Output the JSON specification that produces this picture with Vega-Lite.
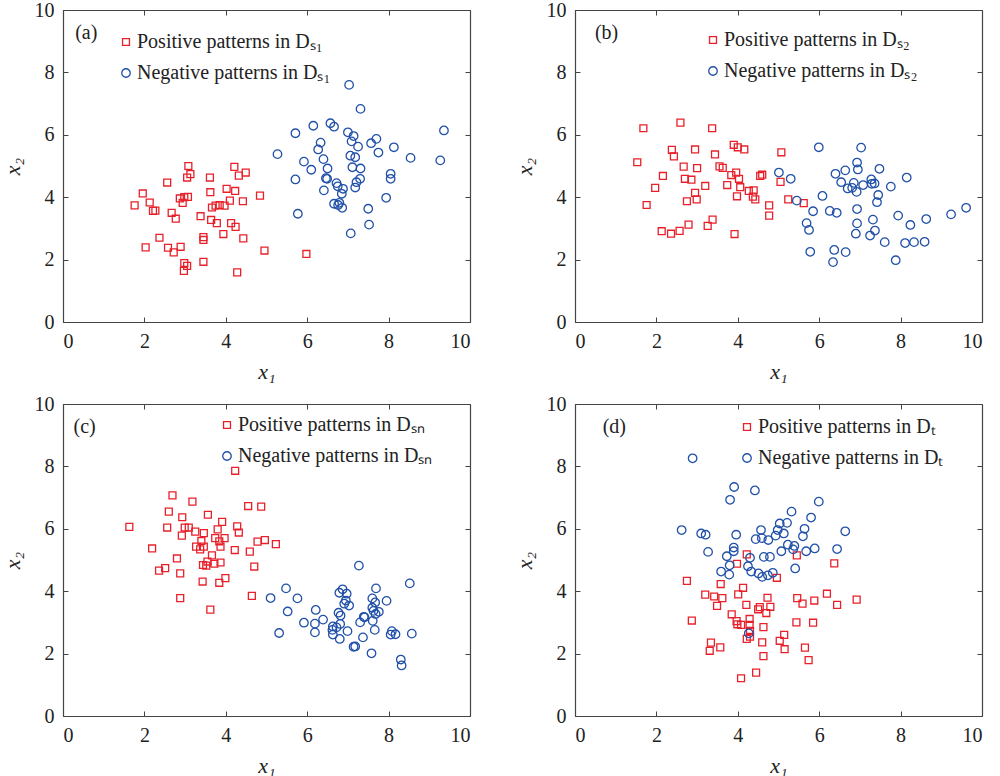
{
  "$schema": "https://vega.github.io/schema/vega-lite/v6.json",
  "background": "white",
  "padding": {"left": 1, "top": 0, "right": 5, "bottom": 5},
  "datasets": {
    "a": [
      {"x1":3.08,"x2":5.00,"cls":"pos"},{"x1":3.13,"x2":4.74,"cls":"pos"},{"x1":3.05,"x2":4.63,"cls":"pos"},{"x1":2.56,"x2":4.47,"cls":"pos"},{"x1":3.61,"x2":4.63,"cls":"pos"},{"x1":4.21,"x2":4.97,"cls":"pos"},{"x1":4.32,"x2":4.69,"cls":"pos"},{"x1":4.49,"x2":4.79,"cls":"pos"},{"x1":1.96,"x2":4.12,"cls":"pos"},{"x1":3.62,"x2":4.16,"cls":"pos"},
      {"x1":4.02,"x2":4.27,"cls":"pos"},{"x1":4.23,"x2":4.20,"cls":"pos"},{"x1":4.84,"x2":4.05,"cls":"pos"},{"x1":1.76,"x2":3.74,"cls":"pos"},{"x1":2.13,"x2":3.83,"cls":"pos"},{"x1":2.87,"x2":3.96,"cls":"pos"},{"x1":2.98,"x2":4.00,"cls":"pos"},{"x1":3.07,"x2":4.01,"cls":"pos"},{"x1":2.94,"x2":3.82,"cls":"pos"},{"x1":2.21,"x2":3.56,"cls":"pos"},
      {"x1":2.27,"x2":3.57,"cls":"pos"},{"x1":2.67,"x2":3.50,"cls":"pos"},{"x1":2.77,"x2":3.31,"cls":"pos"},{"x1":3.66,"x2":3.67,"cls":"pos"},{"x1":3.75,"x2":3.73,"cls":"pos"},{"x1":3.85,"x2":3.75,"cls":"pos"},{"x1":3.97,"x2":3.73,"cls":"pos"},{"x1":4.10,"x2":3.89,"cls":"pos"},{"x1":4.42,"x2":3.87,"cls":"pos"},{"x1":3.38,"x2":3.39,"cls":"pos"},
      {"x1":3.64,"x2":3.27,"cls":"pos"},{"x1":3.78,"x2":3.17,"cls":"pos"},{"x1":4.13,"x2":3.17,"cls":"pos"},{"x1":4.24,"x2":3.05,"cls":"pos"},{"x1":3.94,"x2":2.82,"cls":"pos"},{"x1":4.43,"x2":2.68,"cls":"pos"},{"x1":2.37,"x2":2.70,"cls":"pos"},{"x1":3.45,"x2":2.72,"cls":"pos"},{"x1":3.45,"x2":2.63,"cls":"pos"},{"x1":2.03,"x2":2.39,"cls":"pos"},
      {"x1":2.58,"x2":2.38,"cls":"pos"},{"x1":2.89,"x2":2.41,"cls":"pos"},{"x1":2.72,"x2":2.23,"cls":"pos"},{"x1":4.95,"x2":2.29,"cls":"pos"},{"x1":2.98,"x2":1.89,"cls":"pos"},{"x1":3.05,"x2":1.80,"cls":"pos"},{"x1":2.97,"x2":1.64,"cls":"pos"},{"x1":3.45,"x2":1.93,"cls":"pos"},{"x1":4.28,"x2":1.59,"cls":"pos"},{"x1":5.98,"x2":2.18,"cls":"pos"},
      {"x1":7.31,"x2":6.83,"cls":"neg"},{"x1":6.15,"x2":6.29,"cls":"neg"},{"x1":6.57,"x2":6.37,"cls":"neg"},{"x1":6.66,"x2":6.26,"cls":"neg"},{"x1":5.71,"x2":6.05,"cls":"neg"},{"x1":7.00,"x2":6.08,"cls":"neg"},{"x1":7.14,"x2":5.96,"cls":"neg"},{"x1":7.09,"x2":5.79,"cls":"neg"},{"x1":6.33,"x2":5.75,"cls":"neg"},{"x1":6.27,"x2":5.53,"cls":"neg"},
      {"x1":7.25,"x2":5.62,"cls":"neg"},{"x1":7.57,"x2":5.73,"cls":"neg"},{"x1":7.70,"x2":5.87,"cls":"neg"},{"x1":8.13,"x2":5.60,"cls":"neg"},{"x1":7.75,"x2":5.43,"cls":"neg"},{"x1":9.36,"x2":6.14,"cls":"neg"},{"x1":5.27,"x2":5.38,"cls":"neg"},{"x1":7.06,"x2":5.33,"cls":"neg"},{"x1":7.18,"x2":5.28,"cls":"neg"},{"x1":8.54,"x2":5.26,"cls":"neg"},
      {"x1":9.27,"x2":5.18,"cls":"neg"},{"x1":5.92,"x2":5.14,"cls":"neg"},{"x1":6.40,"x2":5.22,"cls":"neg"},{"x1":6.10,"x2":4.88,"cls":"neg"},{"x1":6.50,"x2":4.92,"cls":"neg"},{"x1":7.11,"x2":4.96,"cls":"neg"},{"x1":7.31,"x2":4.92,"cls":"neg"},{"x1":5.71,"x2":4.57,"cls":"neg"},{"x1":6.46,"x2":4.61,"cls":"neg"},{"x1":6.49,"x2":4.59,"cls":"neg"},
      {"x1":6.72,"x2":4.45,"cls":"neg"},{"x1":6.75,"x2":4.35,"cls":"neg"},{"x1":6.88,"x2":4.27,"cls":"neg"},{"x1":6.85,"x2":4.11,"cls":"neg"},{"x1":6.41,"x2":4.22,"cls":"neg"},{"x1":7.30,"x2":4.59,"cls":"neg"},{"x1":7.21,"x2":4.48,"cls":"neg"},{"x1":7.18,"x2":4.31,"cls":"neg"},{"x1":8.05,"x2":4.75,"cls":"neg"},{"x1":8.05,"x2":4.59,"cls":"neg"},
      {"x1":7.94,"x2":3.98,"cls":"neg"},{"x1":6.66,"x2":3.79,"cls":"neg"},{"x1":6.79,"x2":3.82,"cls":"neg"},{"x1":6.76,"x2":3.75,"cls":"neg"},{"x1":6.86,"x2":3.66,"cls":"neg"},{"x1":5.77,"x2":3.47,"cls":"neg"},{"x1":7.50,"x2":3.63,"cls":"neg"},{"x1":7.52,"x2":3.12,"cls":"neg"},{"x1":7.07,"x2":2.84,"cls":"neg"},{"x1":7.03,"x2":7.60,"cls":"neg"}
    ],
    "b": [
      {"x1":1.68,"x2":6.21,"cls":"pos"},{"x1":2.59,"x2":6.39,"cls":"pos"},{"x1":3.37,"x2":6.21,"cls":"pos"},{"x1":1.53,"x2":5.12,"cls":"pos"},{"x1":2.38,"x2":5.52,"cls":"pos"},{"x1":2.43,"x2":5.31,"cls":"pos"},{"x1":2.95,"x2":5.53,"cls":"pos"},{"x1":3.44,"x2":5.37,"cls":"pos"},{"x1":3.90,"x2":5.68,"cls":"pos"},{"x1":4.00,"x2":5.60,"cls":"pos"},
      {"x1":4.16,"x2":5.53,"cls":"pos"},{"x1":2.67,"x2":4.98,"cls":"pos"},{"x1":3.00,"x2":4.93,"cls":"pos"},{"x1":3.55,"x2":4.99,"cls":"pos"},{"x1":3.63,"x2":4.94,"cls":"pos"},{"x1":3.84,"x2":4.71,"cls":"pos"},{"x1":3.96,"x2":4.79,"cls":"pos"},{"x1":4.03,"x2":4.59,"cls":"pos"},{"x1":4.55,"x2":4.68,"cls":"pos"},{"x1":4.60,"x2":4.72,"cls":"pos"},
      {"x1":2.16,"x2":4.68,"cls":"pos"},{"x1":2.70,"x2":4.59,"cls":"pos"},{"x1":2.86,"x2":4.56,"cls":"pos"},{"x1":1.97,"x2":4.30,"cls":"pos"},{"x1":3.20,"x2":4.36,"cls":"pos"},{"x1":3.74,"x2":4.39,"cls":"pos"},{"x1":4.06,"x2":4.32,"cls":"pos"},{"x1":2.95,"x2":4.14,"cls":"pos"},{"x1":2.99,"x2":3.93,"cls":"pos"},{"x1":2.75,"x2":3.87,"cls":"pos"},
      {"x1":3.98,"x2":4.03,"cls":"pos"},{"x1":4.27,"x2":4.20,"cls":"pos"},{"x1":4.39,"x2":4.22,"cls":"pos"},{"x1":4.37,"x2":4.02,"cls":"pos"},{"x1":4.43,"x2":3.93,"cls":"pos"},{"x1":1.76,"x2":3.75,"cls":"pos"},{"x1":4.77,"x2":3.74,"cls":"pos"},{"x1":4.77,"x2":3.41,"cls":"pos"},{"x1":3.38,"x2":3.28,"cls":"pos"},{"x1":3.26,"x2":3.08,"cls":"pos"},
      {"x1":2.79,"x2":3.12,"cls":"pos"},{"x1":2.13,"x2":2.91,"cls":"pos"},{"x1":2.36,"x2":2.83,"cls":"pos"},{"x1":2.57,"x2":2.92,"cls":"pos"},{"x1":3.92,"x2":2.82,"cls":"pos"},{"x1":5.07,"x2":5.44,"cls":"pos"},{"x1":5.05,"x2":4.49,"cls":"pos"},{"x1":5.24,"x2":3.93,"cls":"pos"},{"x1":5.62,"x2":3.81,"cls":"pos"},
      {"x1":5.99,"x2":5.60,"cls":"neg"},{"x1":7.03,"x2":5.59,"cls":"neg"},{"x1":6.93,"x2":5.11,"cls":"neg"},{"x1":6.95,"x2":4.89,"cls":"neg"},{"x1":5.01,"x2":4.79,"cls":"neg"},{"x1":5.30,"x2":4.59,"cls":"neg"},{"x1":6.40,"x2":4.75,"cls":"neg"},{"x1":6.64,"x2":4.86,"cls":"neg"},{"x1":7.48,"x2":4.91,"cls":"neg"},{"x1":8.15,"x2":4.63,"cls":"neg"},
      {"x1":6.54,"x2":4.48,"cls":"neg"},{"x1":6.70,"x2":4.28,"cls":"neg"},{"x1":6.81,"x2":4.30,"cls":"neg"},{"x1":6.85,"x2":4.46,"cls":"neg"},{"x1":6.92,"x2":4.17,"cls":"neg"},{"x1":7.08,"x2":4.39,"cls":"neg"},{"x1":7.28,"x2":4.57,"cls":"neg"},{"x1":7.29,"x2":4.43,"cls":"neg"},{"x1":7.36,"x2":4.44,"cls":"neg"},{"x1":7.76,"x2":4.34,"cls":"neg"},
      {"x1":7.45,"x2":4.07,"cls":"neg"},{"x1":7.42,"x2":3.84,"cls":"neg"},{"x1":6.08,"x2":4.04,"cls":"neg"},{"x1":5.45,"x2":3.89,"cls":"neg"},{"x1":5.85,"x2":3.55,"cls":"neg"},{"x1":6.26,"x2":3.56,"cls":"neg"},{"x1":6.43,"x2":3.50,"cls":"neg"},{"x1":6.93,"x2":3.62,"cls":"neg"},{"x1":5.69,"x2":3.17,"cls":"neg"},{"x1":5.75,"x2":2.95,"cls":"neg"},
      {"x1":6.93,"x2":3.16,"cls":"neg"},{"x1":6.90,"x2":2.83,"cls":"neg"},{"x1":7.32,"x2":3.28,"cls":"neg"},{"x1":7.37,"x2":2.93,"cls":"neg"},{"x1":7.25,"x2":2.77,"cls":"neg"},{"x1":7.94,"x2":3.41,"cls":"neg"},{"x1":8.24,"x2":3.11,"cls":"neg"},{"x1":8.63,"x2":3.30,"cls":"neg"},{"x1":9.24,"x2":3.45,"cls":"neg"},{"x1":9.61,"x2":3.66,"cls":"neg"},
      {"x1":7.61,"x2":2.56,"cls":"neg"},{"x1":8.11,"x2":2.53,"cls":"neg"},{"x1":8.33,"x2":2.56,"cls":"neg"},{"x1":8.59,"x2":2.57,"cls":"neg"},{"x1":5.78,"x2":2.25,"cls":"neg"},{"x1":6.37,"x2":2.31,"cls":"neg"},{"x1":6.65,"x2":2.24,"cls":"neg"},{"x1":6.34,"x2":1.92,"cls":"neg"},{"x1":7.88,"x2":1.98,"cls":"neg"}
    ],
    "c": [
      {"x1":4.23,"x2":7.86,"cls":"pos"},{"x1":2.69,"x2":7.07,"cls":"pos"},{"x1":3.18,"x2":6.87,"cls":"pos"},{"x1":2.60,"x2":6.55,"cls":"pos"},{"x1":2.93,"x2":6.37,"cls":"pos"},{"x1":3.56,"x2":6.45,"cls":"pos"},{"x1":4.55,"x2":6.73,"cls":"pos"},{"x1":4.87,"x2":6.71,"cls":"pos"},{"x1":1.63,"x2":6.06,"cls":"pos"},{"x1":2.56,"x2":6.04,"cls":"pos"},
      {"x1":2.99,"x2":6.04,"cls":"pos"},{"x1":3.09,"x2":6.04,"cls":"pos"},{"x1":3.25,"x2":5.91,"cls":"pos"},{"x1":3.46,"x2":5.86,"cls":"pos"},{"x1":2.92,"x2":5.78,"cls":"pos"},{"x1":3.91,"x2":6.22,"cls":"pos"},{"x1":3.80,"x2":5.98,"cls":"pos"},{"x1":4.28,"x2":6.08,"cls":"pos"},{"x1":4.32,"x2":5.88,"cls":"pos"},{"x1":3.74,"x2":5.70,"cls":"pos"},
      {"x1":3.97,"x2":5.70,"cls":"pos"},{"x1":3.84,"x2":5.60,"cls":"pos"},{"x1":3.40,"x2":5.61,"cls":"pos"},{"x1":3.27,"x2":5.43,"cls":"pos"},{"x1":3.46,"x2":5.43,"cls":"pos"},{"x1":3.37,"x2":5.34,"cls":"pos"},{"x1":3.87,"x2":5.43,"cls":"pos"},{"x1":4.22,"x2":5.32,"cls":"pos"},{"x1":4.59,"x2":5.27,"cls":"pos"},{"x1":4.78,"x2":5.59,"cls":"pos"},
      {"x1":4.96,"x2":5.64,"cls":"pos"},{"x1":5.23,"x2":5.51,"cls":"pos"},{"x1":2.19,"x2":5.37,"cls":"pos"},{"x1":3.66,"x2":5.15,"cls":"pos"},{"x1":2.80,"x2":5.05,"cls":"pos"},{"x1":3.55,"x2":4.95,"cls":"pos"},{"x1":3.72,"x2":4.88,"cls":"pos"},{"x1":3.87,"x2":4.92,"cls":"pos"},{"x1":3.44,"x2":4.84,"cls":"pos"},{"x1":3.52,"x2":4.82,"cls":"pos"},
      {"x1":2.51,"x2":4.74,"cls":"pos"},{"x1":2.36,"x2":4.66,"cls":"pos"},{"x1":2.88,"x2":4.57,"cls":"pos"},{"x1":4.70,"x2":4.79,"cls":"pos"},{"x1":3.43,"x2":4.31,"cls":"pos"},{"x1":3.84,"x2":4.27,"cls":"pos"},{"x1":3.99,"x2":4.42,"cls":"pos"},{"x1":2.88,"x2":3.78,"cls":"pos"},{"x1":4.64,"x2":3.85,"cls":"pos"},{"x1":3.62,"x2":3.41,"cls":"pos"},
      {"x1":7.27,"x2":4.82,"cls":"neg"},{"x1":8.52,"x2":4.25,"cls":"neg"},{"x1":5.48,"x2":4.09,"cls":"neg"},{"x1":5.10,"x2":3.78,"cls":"neg"},{"x1":5.76,"x2":3.77,"cls":"neg"},{"x1":6.87,"x2":4.06,"cls":"neg"},{"x1":6.79,"x2":3.95,"cls":"neg"},{"x1":6.97,"x2":3.92,"cls":"neg"},{"x1":7.69,"x2":4.09,"cls":"neg"},{"x1":7.60,"x2":3.77,"cls":"neg"},
      {"x1":7.67,"x2":3.64,"cls":"neg"},{"x1":7.95,"x2":3.69,"cls":"neg"},{"x1":6.95,"x2":3.70,"cls":"neg"},{"x1":6.91,"x2":3.60,"cls":"neg"},{"x1":7.03,"x2":3.54,"cls":"neg"},{"x1":7.60,"x2":3.47,"cls":"neg"},{"x1":7.63,"x2":3.37,"cls":"neg"},{"x1":7.76,"x2":3.34,"cls":"neg"},{"x1":7.68,"x2":3.27,"cls":"neg"},{"x1":5.52,"x2":3.35,"cls":"neg"},
      {"x1":6.21,"x2":3.40,"cls":"neg"},{"x1":6.77,"x2":3.31,"cls":"neg"},{"x1":6.82,"x2":3.22,"cls":"neg"},{"x1":7.39,"x2":3.18,"cls":"neg"},{"x1":7.41,"x2":3.16,"cls":"neg"},{"x1":6.39,"x2":3.09,"cls":"neg"},{"x1":5.92,"x2":2.99,"cls":"neg"},{"x1":6.19,"x2":2.96,"cls":"neg"},{"x1":6.81,"x2":2.95,"cls":"neg"},{"x1":7.30,"x2":3.00,"cls":"neg"},
      {"x1":7.61,"x2":3.05,"cls":"neg"},{"x1":6.63,"x2":2.87,"cls":"neg"},{"x1":6.72,"x2":2.84,"cls":"neg"},{"x1":6.62,"x2":2.76,"cls":"neg"},{"x1":6.99,"x2":2.72,"cls":"neg"},{"x1":7.66,"x2":2.76,"cls":"neg"},{"x1":5.31,"x2":2.66,"cls":"neg"},{"x1":6.19,"x2":2.68,"cls":"neg"},{"x1":6.63,"x2":2.61,"cls":"neg"},{"x1":8.08,"x2":2.72,"cls":"neg"},
      {"x1":8.05,"x2":2.61,"cls":"neg"},{"x1":8.17,"x2":2.62,"cls":"neg"},{"x1":8.57,"x2":2.64,"cls":"neg"},{"x1":6.80,"x2":2.47,"cls":"neg"},{"x1":7.37,"x2":2.52,"cls":"neg"},{"x1":7.14,"x2":2.22,"cls":"neg"},{"x1":7.18,"x2":2.23,"cls":"neg"},{"x1":7.58,"x2":2.01,"cls":"neg"},{"x1":8.30,"x2":1.81,"cls":"neg"},{"x1":8.32,"x2":1.62,"cls":"neg"}
    ],
    "d": [
      {"x1":2.75,"x2":4.33,"cls":"pos"},{"x1":3.58,"x2":4.23,"cls":"pos"},{"x1":4.13,"x2":4.11,"cls":"pos"},{"x1":4.96,"x2":4.43,"cls":"pos"},{"x1":3.20,"x2":3.89,"cls":"pos"},{"x1":3.42,"x2":3.83,"cls":"pos"},{"x1":3.62,"x2":3.78,"cls":"pos"},{"x1":4.01,"x2":3.90,"cls":"pos"},{"x1":4.73,"x2":3.79,"cls":"pos"},{"x1":5.46,"x2":3.78,"cls":"pos"},
      {"x1":6.19,"x2":3.92,"cls":"pos"},{"x1":3.49,"x2":3.53,"cls":"pos"},{"x1":4.21,"x2":3.56,"cls":"pos"},{"x1":4.54,"x2":3.49,"cls":"pos"},{"x1":4.80,"x2":3.50,"cls":"pos"},{"x1":4.50,"x2":3.42,"cls":"pos"},{"x1":5.59,"x2":3.60,"cls":"pos"},{"x1":5.88,"x2":3.70,"cls":"pos"},{"x1":6.44,"x2":3.56,"cls":"pos"},{"x1":6.92,"x2":3.73,"cls":"pos"},
      {"x1":4.70,"x2":3.30,"cls":"pos"},{"x1":3.85,"x2":3.26,"cls":"pos"},{"x1":4.29,"x2":3.11,"cls":"pos"},{"x1":2.87,"x2":3.06,"cls":"pos"},{"x1":3.97,"x2":3.04,"cls":"pos"},{"x1":3.99,"x2":2.94,"cls":"pos"},{"x1":4.08,"x2":2.92,"cls":"pos"},{"x1":4.29,"x2":2.92,"cls":"pos"},{"x1":4.63,"x2":2.85,"cls":"pos"},{"x1":5.44,"x2":3.00,"cls":"pos"},
      {"x1":5.85,"x2":2.99,"cls":"pos"},{"x1":4.30,"x2":2.73,"cls":"pos"},{"x1":4.22,"x2":2.47,"cls":"pos"},{"x1":4.30,"x2":2.54,"cls":"pos"},{"x1":4.60,"x2":2.36,"cls":"pos"},{"x1":5.03,"x2":2.41,"cls":"pos"},{"x1":5.14,"x2":2.60,"cls":"pos"},{"x1":3.34,"x2":2.35,"cls":"pos"},{"x1":3.31,"x2":2.09,"cls":"pos"},{"x1":3.57,"x2":2.20,"cls":"pos"},
      {"x1":5.15,"x2":2.14,"cls":"pos"},{"x1":5.65,"x2":2.19,"cls":"pos"},{"x1":4.63,"x2":1.92,"cls":"pos"},{"x1":5.74,"x2":1.79,"cls":"pos"},{"x1":4.45,"x2":1.39,"cls":"pos"},{"x1":4.08,"x2":1.21,"cls":"pos"},{"x1":6.37,"x2":4.89,"cls":"pos"},{"x1":3.98,"x2":4.88,"cls":"pos"},{"x1":4.22,"x2":5.18,"cls":"pos"},{"x1":5.45,"x2":5.15,"cls":"pos"},
      {"x1":2.89,"x2":8.26,"cls":"neg"},{"x1":3.91,"x2":7.34,"cls":"neg"},{"x1":4.42,"x2":7.23,"cls":"neg"},{"x1":3.81,"x2":6.93,"cls":"neg"},{"x1":5.99,"x2":6.87,"cls":"neg"},{"x1":5.32,"x2":6.55,"cls":"neg"},{"x1":5.80,"x2":6.36,"cls":"neg"},{"x1":5.03,"x2":6.17,"cls":"neg"},{"x1":5.21,"x2":6.19,"cls":"neg"},{"x1":4.57,"x2":5.96,"cls":"neg"},
      {"x1":4.98,"x2":5.96,"cls":"neg"},{"x1":5.64,"x2":6.00,"cls":"neg"},{"x1":2.62,"x2":5.96,"cls":"neg"},{"x1":3.10,"x2":5.85,"cls":"neg"},{"x1":3.21,"x2":5.81,"cls":"neg"},{"x1":3.96,"x2":5.81,"cls":"neg"},{"x1":4.59,"x2":5.70,"cls":"neg"},{"x1":4.44,"x2":5.67,"cls":"neg"},{"x1":4.75,"x2":5.64,"cls":"neg"},{"x1":4.93,"x2":5.78,"cls":"neg"},
      {"x1":5.13,"x2":5.85,"cls":"neg"},{"x1":5.60,"x2":5.76,"cls":"neg"},{"x1":6.64,"x2":5.92,"cls":"neg"},{"x1":3.90,"x2":5.40,"cls":"neg"},{"x1":3.90,"x2":5.28,"cls":"neg"},{"x1":3.27,"x2":5.26,"cls":"neg"},{"x1":5.07,"x2":5.28,"cls":"neg"},{"x1":5.23,"x2":5.49,"cls":"neg"},{"x1":5.39,"x2":5.45,"cls":"neg"},{"x1":5.36,"x2":5.34,"cls":"neg"},
      {"x1":5.68,"x2":5.28,"cls":"neg"},{"x1":5.89,"x2":5.37,"cls":"neg"},{"x1":6.44,"x2":5.35,"cls":"neg"},{"x1":3.73,"x2":5.12,"cls":"neg"},{"x1":4.30,"x2":5.07,"cls":"neg"},{"x1":4.64,"x2":5.10,"cls":"neg"},{"x1":4.79,"x2":5.10,"cls":"neg"},{"x1":3.80,"x2":4.83,"cls":"neg"},{"x1":4.25,"x2":4.80,"cls":"neg"},{"x1":3.59,"x2":4.63,"cls":"neg"},
      {"x1":3.79,"x2":4.53,"cls":"neg"},{"x1":4.33,"x2":4.63,"cls":"neg"},{"x1":4.51,"x2":4.57,"cls":"neg"},{"x1":5.41,"x2":4.73,"cls":"neg"},{"x1":4.60,"x2":4.46,"cls":"neg"},{"x1":4.74,"x2":4.51,"cls":"neg"},{"x1":4.86,"x2":4.59,"cls":"neg"},{"x1":4.27,"x2":2.65,"cls":"neg"}
    ]
  },
  "config": {
    "font": "Liberation Serif",
    "view": {"stroke": null},
    "style": {
      "guide-label": {"font": "Liberation Serif", "fontSize": 20, "fill": "#222"},
      "guide-title": {"font": "Liberation Serif", "fontSize": 22, "fill": "#222"}
    },
    "axis": {
      "grid": false,
      "domainColor": "#444",
      "domainWidth": 1.2,
      "tickColor": "#444",
      "tickWidth": 1,
      "tickSize": -5,
      "labelPadding": 14,
      "labelFont": "Liberation Serif",
      "labelFontSize": 20,
      "labelColor": "#222",
      "titleFont": "Liberation Serif",
      "titleFontSize": 22,
      "titleFontStyle": "italic",
      "titleFontWeight": "normal",
      "titleColor": "#222",
      "titlePadding": 10
    },
    "legend": {
      "padding": 0,
      "labelFont": "Liberation Serif",
      "labelFontSize": 20,
      "labelColor": "#222",
      "labelLimit": 0,
      "labelOffset": 1,
      "rowPadding": 11,
      "symbolSize": 55,
      "symbolStrokeWidth": 1.3
    }
  },
  "columns": 2,
  "bounds": "flush",
  "spacing": {"row": 82, "column": 105},
  "resolve": {"scale": {"color": "independent", "shape": "independent", "size": "independent"}, "legend": {"color": "independent", "shape": "independent"}},
  "concat": [
    {
      "width": 407, "height": 312,
      "layer": [
        {
          "data": {"name": "a"},
          "mark": {"type": "point", "filled": false, "strokeWidth": 1.3, "opacity": 1},
          "encoding": {
            "x": {"field": "x1", "type": "quantitative", "scale": {"domain": [0, 10], "nice": false}, "axis": {"orient": "bottom", "title": "x₁", "values": [0, 2, 4, 6, 8, 10]}},
            "y": {"field": "x2", "type": "quantitative", "scale": {"domain": [0, 10], "nice": false}, "axis": {"orient": "left", "title": "x₂", "values": [0, 2, 4, 6, 8, 10]}},
            "color": {"field": "cls", "type": "nominal", "scale": {"domain": ["pos", "neg"], "range": ["#e8202a", "#2050a8"]}, "legend": {"orient": "none", "legendX": 53, "legendY": 22, "title": null, "labelExpr": "datum.label == 'pos' ? 'Positive patterns in Dₛ₁' : 'Negative patterns in Dₛ₁'"}},
            "shape": {"field": "cls", "type": "nominal", "scale": {"domain": ["pos", "neg"], "range": ["square", "circle"]}, "legend": {"orient": "none", "legendX": 53, "legendY": 22, "title": null, "labelExpr": "datum.label == 'pos' ? 'Positive patterns in Dₛ₁' : 'Negative patterns in Dₛ₁'"}},
            "size": {"field": "cls", "type": "nominal", "scale": {"domain": ["pos", "neg"], "range": [48, 72]}, "legend": null}
          }
        },
        {
          "data": {"values": [{"t": "(a)"}]},
          "mark": {"type": "text", "align": "left", "baseline": "middle", "fontSize": 20, "color": "#222"},
          "encoding": {
            "x": {"datum": 0.3, "type": "quantitative", "axis": {"orient": "top", "labels": false, "title": null, "values": [0, 2, 4, 6, 8, 10]}},
            "y": {"datum": 9.27, "type": "quantitative", "axis": {"orient": "right", "labels": false, "title": null, "values": [0, 2, 4, 6, 8, 10]}},
            "text": {"field": "t"}
          }
        }
      ],
      "resolve": {"axis": {"x": "independent", "y": "independent"}}
    },
    {
      "width": 407, "height": 312,
      "layer": [
        {
          "data": {"name": "b"},
          "mark": {"type": "point", "filled": false, "strokeWidth": 1.3, "opacity": 1},
          "encoding": {
            "x": {"field": "x1", "type": "quantitative", "scale": {"domain": [0, 10], "nice": false}, "axis": {"orient": "bottom", "title": "x₁", "values": [0, 2, 4, 6, 8, 10]}},
            "y": {"field": "x2", "type": "quantitative", "scale": {"domain": [0, 10], "nice": false}, "axis": {"orient": "left", "title": "x₂", "values": [0, 2, 4, 6, 8, 10]}},
            "color": {"field": "cls", "type": "nominal", "scale": {"domain": ["pos", "neg"], "range": ["#e8202a", "#2050a8"]}, "legend": {"orient": "none", "legendX": 128, "legendY": 20, "title": null, "labelExpr": "datum.label == 'pos' ? 'Positive patterns in Dₛ₂' : 'Negative patterns in Dₛ₂'"}},
            "shape": {"field": "cls", "type": "nominal", "scale": {"domain": ["pos", "neg"], "range": ["square", "circle"]}, "legend": {"orient": "none", "legendX": 128, "legendY": 20, "title": null, "labelExpr": "datum.label == 'pos' ? 'Positive patterns in Dₛ₂' : 'Negative patterns in Dₛ₂'"}},
            "size": {"field": "cls", "type": "nominal", "scale": {"domain": ["pos", "neg"], "range": [48, 72]}, "legend": null}
          }
        },
        {
          "data": {"values": [{"t": "(b)"}]},
          "mark": {"type": "text", "align": "left", "baseline": "middle", "fontSize": 20, "color": "#222"},
          "encoding": {
            "x": {"datum": 0.49, "type": "quantitative", "axis": {"orient": "top", "labels": false, "title": null, "values": [0, 2, 4, 6, 8, 10]}},
            "y": {"datum": 9.27, "type": "quantitative", "axis": {"orient": "right", "labels": false, "title": null, "values": [0, 2, 4, 6, 8, 10]}},
            "text": {"field": "t"}
          }
        }
      ],
      "resolve": {"axis": {"x": "independent", "y": "independent"}}
    },
    {
      "width": 407, "height": 312,
      "layer": [
        {
          "data": {"name": "c"},
          "mark": {"type": "point", "filled": false, "strokeWidth": 1.3, "opacity": 1},
          "encoding": {
            "x": {"field": "x1", "type": "quantitative", "scale": {"domain": [0, 10], "nice": false}, "axis": {"orient": "bottom", "title": "x₁", "values": [0, 2, 4, 6, 8, 10]}},
            "y": {"field": "x2", "type": "quantitative", "scale": {"domain": [0, 10], "nice": false}, "axis": {"orient": "left", "title": "x₂", "values": [0, 2, 4, 6, 8, 10]}},
            "color": {"field": "cls", "type": "nominal", "scale": {"domain": ["pos", "neg"], "range": ["#e8202a", "#2050a8"]}, "legend": {"orient": "none", "legendX": 154, "legendY": 11, "title": null, "labelExpr": "datum.label == 'pos' ? 'Positive patterns in Dₛₙ' : 'Negative patterns in Dₛₙ'"}},
            "shape": {"field": "cls", "type": "nominal", "scale": {"domain": ["pos", "neg"], "range": ["square", "circle"]}, "legend": {"orient": "none", "legendX": 154, "legendY": 11, "title": null, "labelExpr": "datum.label == 'pos' ? 'Positive patterns in Dₛₙ' : 'Negative patterns in Dₛₙ'"}},
            "size": {"field": "cls", "type": "nominal", "scale": {"domain": ["pos", "neg"], "range": [48, 72]}, "legend": null}
          }
        },
        {
          "data": {"values": [{"t": "(c)"}]},
          "mark": {"type": "text", "align": "left", "baseline": "middle", "fontSize": 20, "color": "#222"},
          "encoding": {
            "x": {"datum": 0.26, "type": "quantitative", "axis": {"orient": "top", "labels": false, "title": null, "values": [0, 2, 4, 6, 8, 10]}},
            "y": {"datum": 9.25, "type": "quantitative", "axis": {"orient": "right", "labels": false, "title": null, "values": [0, 2, 4, 6, 8, 10]}},
            "text": {"field": "t"}
          }
        }
      ],
      "resolve": {"axis": {"x": "independent", "y": "independent"}}
    },
    {
      "width": 407, "height": 312,
      "layer": [
        {
          "data": {"name": "d"},
          "mark": {"type": "point", "filled": false, "strokeWidth": 1.3, "opacity": 1},
          "encoding": {
            "x": {"field": "x1", "type": "quantitative", "scale": {"domain": [0, 10], "nice": false}, "axis": {"orient": "bottom", "title": "x₁", "values": [0, 2, 4, 6, 8, 10]}},
            "y": {"field": "x2", "type": "quantitative", "scale": {"domain": [0, 10], "nice": false}, "axis": {"orient": "left", "title": "x₂", "values": [0, 2, 4, 6, 8, 10]}},
            "color": {"field": "cls", "type": "nominal", "scale": {"domain": ["pos", "neg"], "range": ["#e8202a", "#2050a8"]}, "legend": {"orient": "none", "legendX": 162, "legendY": 13, "title": null, "labelExpr": "datum.label == 'pos' ? 'Positive patterns in Dₜ' : 'Negative patterns in Dₜ'"}},
            "shape": {"field": "cls", "type": "nominal", "scale": {"domain": ["pos", "neg"], "range": ["square", "circle"]}, "legend": {"orient": "none", "legendX": 162, "legendY": 13, "title": null, "labelExpr": "datum.label == 'pos' ? 'Positive patterns in Dₜ' : 'Negative patterns in Dₜ'"}},
            "size": {"field": "cls", "type": "nominal", "scale": {"domain": ["pos", "neg"], "range": [48, 72]}, "legend": null}
          }
        },
        {
          "data": {"values": [{"t": "(d)"}]},
          "mark": {"type": "text", "align": "left", "baseline": "middle", "fontSize": 20, "color": "#222"},
          "encoding": {
            "x": {"datum": 0.68, "type": "quantitative", "axis": {"orient": "top", "labels": false, "title": null, "values": [0, 2, 4, 6, 8, 10]}},
            "y": {"datum": 9.25, "type": "quantitative", "axis": {"orient": "right", "labels": false, "title": null, "values": [0, 2, 4, 6, 8, 10]}},
            "text": {"field": "t"}
          }
        }
      ],
      "resolve": {"axis": {"x": "independent", "y": "independent"}}
    }
  ]
}
